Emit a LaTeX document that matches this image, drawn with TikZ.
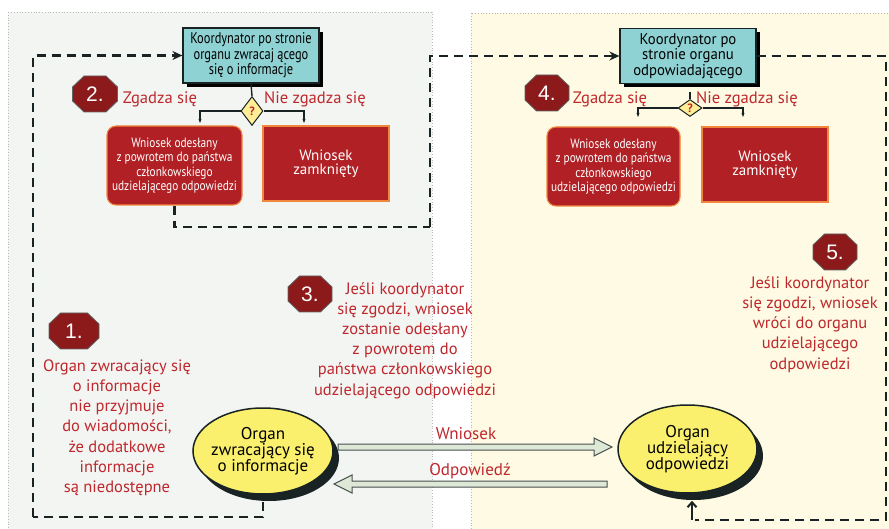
\documentclass[tikz,border=0pt]{standalone}
\usepackage{fontspec}
\setmainfont{PT Sans}
\newfontfamily\condfont[FakeStretch=0.8]{PT Sans}
\newfontfamily\condfontb[FakeStretch=0.95]{PT Sans}
\newfontfamily\condfontc[FakeStretch=0.84]{PT Sans}
\newfontfamily\numfont{Liberation Sans}
\usetikzlibrary{shapes.geometric,arrows.meta,shadows,calc}
\definecolor{txtred}{RGB}{190,40,45}
\definecolor{boxred}{RGB}{176,32,36}
\definecolor{boxorange}{RGB}{240,135,60}
\definecolor{octred}{RGB}{140,26,26}
\definecolor{tealbox}{RGB}{143,210,212}
\definecolor{darkline}{RGB}{25,35,35}
\definecolor{ellyellow}{RGB}{250,240,110}
\definecolor{diayellow}{RGB}{255,238,150}
\definecolor{panelgray}{RGB}{243,245,243}
\definecolor{panelyellow}{RGB}{254,250,227}
\definecolor{arrowgreen}{RGB}{221,232,214}
\definecolor{dotgray}{RGB}{185,185,185}
% octagon badge: name, position, half width, text
\newcommand\octnode[4]{%
  \begin{scope}[shift={(#2)}]
    \draw[octshape] ({-(#3)+11.5},-18) -- ({#3-11.5},-18) -- (#3,-7) -- (#3,7) -- ({#3-11.5},18)
      -- ({-(#3)+11.5},18) -- (-#3,7) -- (-#3,-7) -- cycle;
    \node[octtxt] (#1) at (0,0) {#4};
  \end{scope}}
\begin{document}
\begin{tikzpicture}[x=1pt,y=-1pt,
  redtxt/.style={text=txtred, align=center, inner sep=0pt, font=\fontsize{16.5}{20.2}\selectfont},
  declabel/.style={text=txtred, inner sep=0pt, font=\fontsize{16.6}{18}\selectfont},
  koord/.style={draw=darkline, line width=1.2pt, fill=tealbox, minimum width=136pt, minimum height=55pt,
    inner sep=1pt, align=center,
    drop shadow={shadow xshift=4pt, shadow yshift=-4pt, fill=black, opacity=1}},
  rbox/.style={fill=boxred, draw=boxorange, line width=1.1pt, text=white, align=center, inner sep=1pt},
  roundbox/.style={rbox, rounded corners=9pt, minimum width=135pt, minimum height=79pt,
    font=\condfontc\fontsize{13.5}{14.5}\selectfont},
  sharpbox/.style={rbox, minimum width=126pt, minimum height=75pt, font=\fontsize{15}{14}\selectfont},
  decision/.style={diamond, fill=diayellow, draw=darkline, line width=1pt, inner sep=0pt,
    text=txtred, font=\bfseries\fontsize{12}{12}\selectfont},
  octshape/.style={fill=octred, draw=darkline!70, line width=0.8pt, line join=miter},
  octtxt/.style={inner sep=0pt, text=white, font=\numfont\fontsize{21}{21}\selectfont},
  organ/.style={ellipse, fill=ellyellow, draw=darkline, line width=1.5pt, inner sep=0pt,
    drop shadow={shadow xshift=6pt, shadow yshift=-7pt, fill=darkline, opacity=1}},
  organtxt/.style={align=center, inner sep=0pt, font=\fontsize{17}{16}\selectfont},
  arrlabel/.style={text=txtred, inner sep=0pt, font=\fontsize{17}{16}\selectfont},
  dashloop/.style={draw=darkline, line width=2.6pt, dash pattern=on 9pt off 6pt},
  dectip/.style={draw=darkline, line width=1.4pt, -{Stealth[length=4pt,width=3pt]}},
  uptip/.style={draw=darkline, line width=2pt, -{Straight Barb[length=5pt,width=9pt]}},
  bigarrow/.style={fill=arrowgreen, draw=darkline!80, line width=1pt, line join=miter}
]
\useasboundingbox (0,0) rectangle (889,529);
% panels
\fill[white] (0,0) rectangle (889,529);
\draw[fill=panelgray, draw=dotgray, dotted, line width=0.8pt] (8,12) rectangle (432,535);
\draw[fill=panelyellow, draw=dotgray, dotted, line width=0.8pt] (471,13) rectangle (895,535);

% coordinators
\node[koord, font=\condfont\fontsize{15.5}{15.5}\selectfont] (koordL) at (251,55.5) {Koordynator po stronie\\organu zwracaj ącego\\się o informacje};
\node[koord, font=\condfontb\fontsize{15.5}{15.5}\selectfont] (koordR) at (688,56) {Koordynator po\\stronie organu\\odpowiadającego};

% decision diamonds
\node[decision, minimum width=22pt, minimum height=29pt] (diaL) at (252,111) {?};
\node[decision, minimum width=24pt, minimum height=17pt] (diaR) at (690,108) {?};

% result boxes
\node[roundbox] (wnL) at (174.5,165.5) {Wniosek odesłany\\z powrotem do państwa\\członkowskiego\\udzielającego odpowiedzi};
\node[sharpbox] (zamL) at (326,163.5) {Wniosek\\zamknięty};
\node[roundbox, minimum width=133pt] (wnR) at (613.5,166.5) {Wniosek odesłany\\z powrotem do państwa\\członkowskiego\\udzielającego odpowiedzi};
\node[sharpbox] (zamR) at (765,164.5) {Wniosek\\zamknięty};

% decision connectors
\coordinate (dL1) at (200,123);
\coordinate (dL2) at (304,123);
\coordinate (dR1) at (638,117);
\coordinate (dR2) at (743,117);
\draw[darkline, line width=1.4pt] (koordL.south) -- (diaL.north);
\draw[darkline, line width=1.4pt] ($(koordR.south)+(2,8)$) -- (diaR.north);
\draw[dectip] (diaL.west) -| (dL1);
\draw[dectip] (diaL.east) -| (dL2);
\draw[dectip] (diaR.west) -| (dR1);
\draw[dectip] (diaR.east) -| (dR2);

% decision labels and numbers
\octnode{n2}{95,94}{22.5}{2.}
\node[declabel] (zgL) at (160,99) {Zgadza się};
\node[declabel] (nzgL) at (315,99) {Nie zgadza się};
\octnode{n4}{547,93}{22}{4.}
\node[declabel] (zgR) at (610,99) {Zgadza się};
\node[declabel] (nzgR) at (747,99) {Nie zgadza się};

% organs
\node[organ, minimum width=140pt, minimum height=86pt] (ellL) at (263,451) {};
\node[organtxt] (ellLtxt) at (ellL.center) {Organ\\zwracający się\\o informacje};
\node[organ, minimum width=139pt, minimum height=88pt] (ellR) at (687.5,449) {};
\node[organtxt] (ellRtxt) at (ellR.center) {Organ\\udzielający\\odpowiedzi};

% big arrows
\draw[bigarrow] (338,444) -- (594,444) -- (594,438) -- (612,447) -- (594,456) -- (594,450) -- (338,450) -- cycle;
\draw[bigarrow] (607,481) -- (352,481) -- (352,475) -- (334,484) -- (352,493) -- (352,487) -- (607,487) -- cycle;
\node[arrlabel] (lwn) at (466,434) {Wniosek};
\node[arrlabel] (lodp) at (470,471) {Odpowiedź};

% numbered notes
\octnode{n1}{74,331}{25}{1.}
\node[redtxt] (t1) at (117,427.6) {Organ zwracający się\\o informacje\\nie przyjmuje\\do wiadomości,\\że dodatkowe\\informacje\\są niedostępne};
\octnode{n3}{310,294}{22}{3.}
\node[redtxt] (t3) at (405,340.5) {Jeśli koordynator\\się zgodzi, wniosek\\zostanie odesłany\\z powrotem do\\państwa członkowskiego\\udzielającego odpowiedzi};
\octnode{n5}{835,252}{22}{5.}
\node[redtxt] (t5) at (810,324.5) {Jeśli koordynator\\się zgodzi, wniosek\\wróci do organu\\udzielającego\\odpowiedzi};

% dashed loops
\coordinate (cBL) at (33,517);
\coordinate (cM) at (430,227);
\coordinate (cR) at (886,520);
\coordinate (cRa) at (695,520);
\coordinate (cRb) at (692,520);
\draw[dashloop] ($(ellL.south)+(0,7)$) |- (cBL);
\draw[dashloop, -{Stealth[length=10pt,width=9pt]}] (cBL) |- (koordL.west);
\draw[dashloop] (wnL.south) |- (cM);
\draw[dashloop, -{Stealth[length=10pt,width=9pt]}] (cM) |- (koordR.west);
\draw[dashloop] (koordR.east) -| (cR) -- (cRa);
\draw[uptip] (cRb) -- ($(ellR.south)+(4.5,7)$);
\end{tikzpicture}
\end{document}
